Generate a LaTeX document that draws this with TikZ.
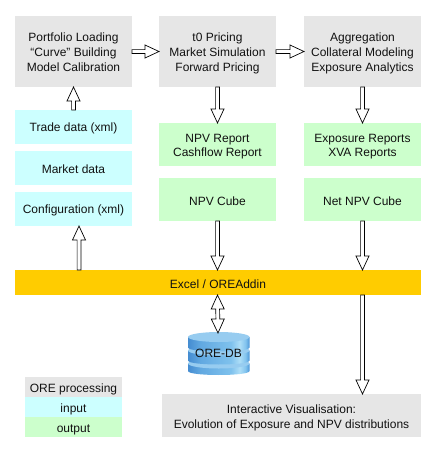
\documentclass[tikz,border=0pt]{standalone}
\usepackage{fontspec}
\setmainfont{Liberation Sans}
\usetikzlibrary{calc}
\definecolor{procgray}{HTML}{E6E6E6}
\definecolor{incyan}{HTML}{CCFFFF}
\definecolor{outgreen}{HTML}{CCFFCC}
\definecolor{barorange}{HTML}{FFCC00}
\definecolor{dbtop}{HTML}{97CCF0}
\definecolor{txt}{HTML}{111111}
\pgfdeclarehorizontalshading{dbshade}{100bp}{
  rgb(0bp)=(0.27,0.55,0.82);
  rgb(25bp)=(0.27,0.55,0.82);
  rgb(35bp)=(0.38,0.66,0.88);
  rgb(60bp)=(0.50,0.76,0.93);
  rgb(67bp)=(0.68,0.87,0.97);
  rgb(72bp)=(0.50,0.76,0.93);
  rgb(75bp)=(0.29,0.58,0.84);
  rgb(100bp)=(0.29,0.58,0.84)}
\tikzset{
  x=1pt,y=-1pt,
  tup/.style={execute at begin node={\rule{0pt}{#1}}},
  base/.style={anchor=north west,inner sep=0pt,outer sep=0pt,font=\fontsize{12}{15}\selectfont,text=txt},
  proc/.style={base,fill=procgray,minimum width=117pt,minimum height=71pt},
  inbox/.style={base,fill=incyan,minimum width=117pt,minimum height=34pt,tup=11.5pt},
  outbox/.style={base,fill=outgreen,minimum width=117pt,minimum height=43pt},
  legbox/.style={base,minimum width=97pt,minimum height=20pt,tup=13.5pt},
  blockarrow/.style={draw=black,fill=white,line width=0.7pt,line join=miter},
  dbside/.style={shading=dbshade,shading angle=0},
}
% several centred lines, lowered by a fixed amount inside their box
\newcommand\lines[2]{\raisebox{-#1}[0pt][0pt]{\begin{tabular}{@{}c@{}}#2\end{tabular}}}
% single block arrow from #1 to #2
\newcommand\blockarr[2]{%
  \draw[blockarrow]
    ($(#1)!1.9pt!90:(#2)$) --
    ($($(#2)!14pt!(#1)$)!1.9pt!90:(#2)$) --
    ($($(#2)!14pt!(#1)$)!6.5pt!90:(#2)$) --
    (#2) --
    ($($(#2)!14pt!(#1)$)!6.5pt!-90:(#2)$) --
    ($($(#2)!14pt!(#1)$)!1.9pt!-90:(#2)$) --
    ($(#1)!1.9pt!-90:(#2)$) -- cycle;}
% two-headed block arrow between #1 and #2
\newcommand\blockarrtwo[2]{%
  \draw[blockarrow]
    (#1) --
    ($($(#1)!14pt!(#2)$)!6.5pt!-90:(#2)$) --
    ($($(#1)!14pt!(#2)$)!1.9pt!-90:(#2)$) --
    ($($(#2)!14pt!(#1)$)!1.9pt!-90:(#2)$) --
    ($($(#2)!14pt!(#1)$)!6.5pt!-90:(#2)$) --
    (#2) --
    ($($(#2)!14pt!(#1)$)!6.5pt!90:(#2)$) --
    ($($(#2)!14pt!(#1)$)!1.9pt!90:(#2)$) --
    ($($(#1)!14pt!(#2)$)!1.9pt!90:(#2)$) --
    ($($(#1)!14pt!(#2)$)!6.5pt!90:(#2)$) -- cycle;}
\begin{document}
\begin{tikzpicture}
\useasboundingbox (0,0) rectangle (436,453);
\fill[white] (0,0) rectangle (436,453);
\node[proc] (load) at (15,16) {\lines{4.8pt}{Portfolio Loading\\“Curve” Building\\Model Calibration}};
\node[proc] (price) at (159,16) {\lines{4.8pt}{t0 Pricing\\Market Simulation\\Forward Pricing}};
\node[proc] (aggr) at (304,16) {\lines{4.8pt}{Aggregation\\Collateral Modeling\\Exposure Analytics}};
\node[inbox] (trade) at (15,110) {Trade data (xml)};
\node[inbox] (market) at (15,151) {Market data};
\node[inbox] (config) at (15,192) {Configuration (xml)};
\node[outbox] (npvrep) at (159,123) {\lines{4.8pt}{NPV Report\\[-1pt]Cashflow Report}};
\node[outbox,tup=11.5pt] (npvcube) at (159,178) {NPV Cube};
\node[outbox] (exprep) at (304,123) {\lines{4.8pt}{Exposure Reports\\[-1pt]XVA Reports}};
\node[outbox,tup=11.5pt] (netcube) at (304,178) {Net NPV Cube};
\node[base,fill=barorange,minimum width=406pt,minimum height=25pt,tup=11.5pt] (excel) at (15,270) {Excel / OREAddin};
\node[base,fill=procgray,minimum width=259pt,minimum height=43pt] (vis) at (162,394) {\lines{5.3pt}{Interactive Visualisation:\\Evolution of Exposure and NPV distributions}};
\node[legbox,fill=procgray] (legA) at (25,377) {ORE processing};
\node[legbox,fill=incyan] (legB) at (25,397) {input};
\node[legbox,fill=outgreen] (legC) at (25,417) {output};
% database cylinder, bottom layer first
\foreach \t/\b in {363.5/371,350.5/360.5,337/347.5}{
  \path[dbside] (188,\t) -- (188,\b) .. controls (188,\b+5.33) and (249.5,\b+5.33) .. (249.5,\b) -- (249.5,\t) -- cycle;
  \fill[dbtop] (218.75,\t) ellipse[x radius=30.75,y radius=5];
}
\node[base,anchor=center] (db) at (218.5,353) {ORE-DB};
\coordinate (dbtopc) at (218,333);
% connectors
\blockarr{trade.north}{load.south}
\blockarr{load.east}{price.west}
\blockarr{price.east}{aggr.west}
\blockarr{price.south}{npvrep.north}
\blockarr{aggr.south}{exprep.north}
\blockarr{npvcube.south}{npvcube.south |- excel.north}
\blockarr{netcube.south}{netcube.south |- excel.north}
\coordinate (cfgarrow) at (79,226);
\blockarr{cfgarrow |- excel.north}{cfgarrow}
\blockarr{netcube.south |- excel.south}{netcube.south |- vis.north}
\blockarrtwo{npvcube.south |- excel.south}{dbtopc}
\end{tikzpicture}
\end{document}
